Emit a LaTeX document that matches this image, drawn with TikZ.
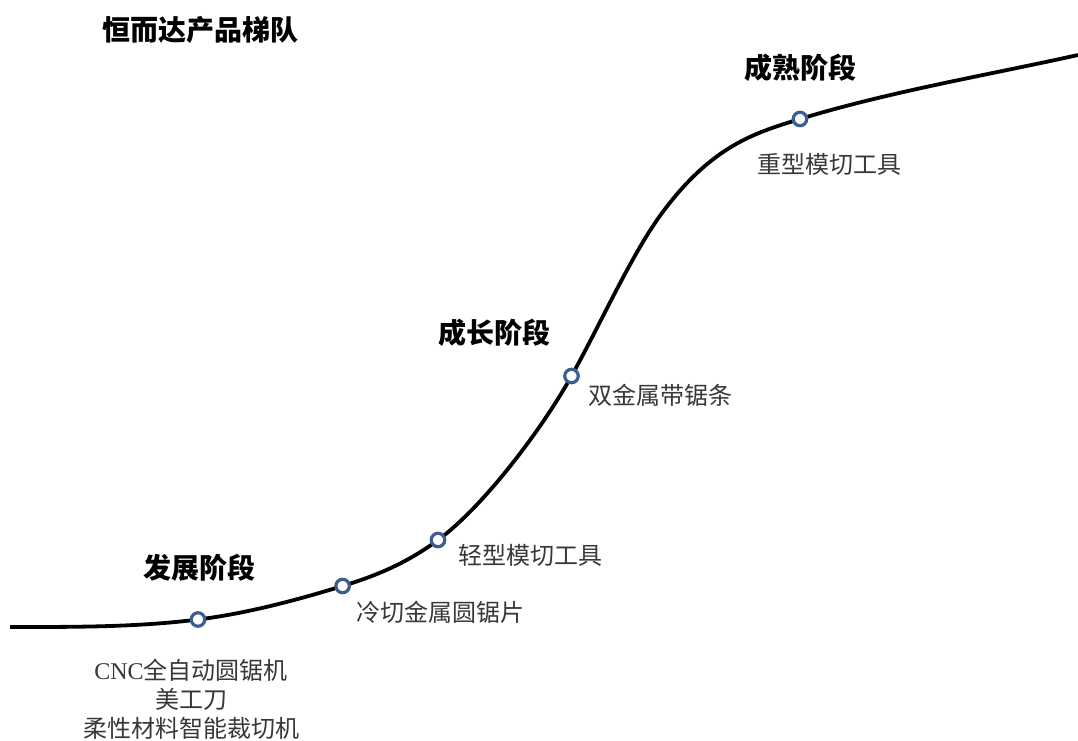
\documentclass[tikz,border=0pt]{standalone}
\usepackage{fontspec}
\setmainfont{Liberation Serif}
\newfontfamily\cjk{Noto Sans CJK SC}
\definecolor{ring}{HTML}{3A5F8F}
\definecolor{txt}{HTML}{383838}
\begin{document}
\begin{tikzpicture}[x=1pt,y=-1pt,
  stage/.style={font=\cjk\bfseries\fontsize{28}{32}\selectfont, text=black, inner sep=0pt},
  item/.style={font=\cjk\fontsize{24}{29}\selectfont, text=txt, inner sep=0pt},
  marker/.style={circle, draw=ring, line width=3.2pt, fill=white, minimum size=13.5pt, inner sep=0pt}]
\useasboundingbox (0,0) rectangle (1078,740);
\coordinate (s) at (10,627);
\coordinate (m1) at (198,619.5);
\coordinate (m2) at (342.6,586);
\coordinate (m3) at (438,540);
\coordinate (m4) at (571.5,376);
\coordinate (p) at (662,213);
\coordinate (m5) at (800,119);
\coordinate (e) at (1078,55);
\draw[line width=3.8pt]
  (s) .. controls (80,627) and (138,627) .. (m1)
      .. controls (246,613.5) and (294.6,600.7) .. (m2)
      .. controls (374.6,576.2) and (406,563.7) .. (m3)
      .. controls (483,507) and (541.5,430) .. (m4)
      .. controls (601.5,322) and (632,253.5) .. (p)
      .. controls (712,145.5) and (755,132.8) .. (m5)
      .. controls (890,91.5) and (988,75) .. (e);
\foreach \m in {m1,m2,m3,m4,m5} \node[marker] (n\m) at (\m) {};
\node[stage] (title) at (200,30) {恒而达产品梯队};
\node[stage] (st1) at (199,568) {发展阶段};
\node[stage] (st2) at (494,333) {成长阶段};
\node[stage] (st3) at (800,68) {成熟阶段};
\node[item, anchor=west] (i2) at (356,612) {冷切金属圆锯片};
\node[item, anchor=west] (i3) at (458,555) {轻型模切工具};
\node[item, anchor=west] (i4) at (588,395) {双金属带锯条};
\node[item] (i5) at (829,164) {重型模切工具};
\node[item, align=center] (i1) at (191,699) {{\fontspec{Liberation Serif}CNC}全自动圆锯机\\美工刀\\柔性材料智能裁切机};
\end{tikzpicture}
\end{document}
